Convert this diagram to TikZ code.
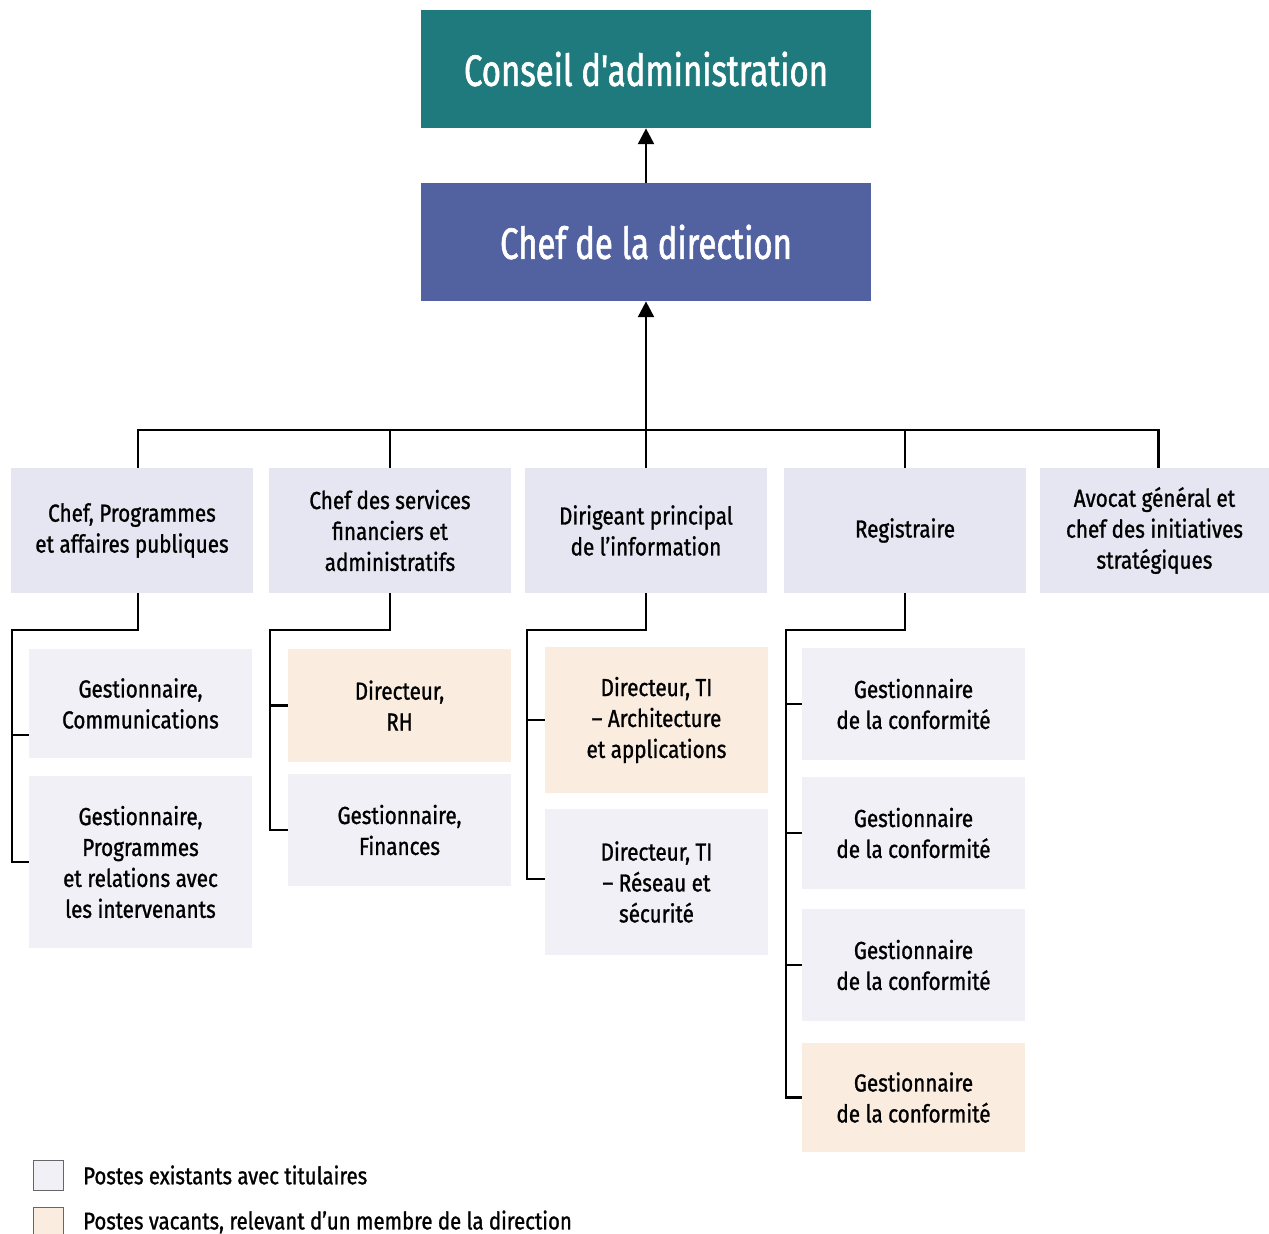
\documentclass[tikz,border=0pt]{standalone}
\usepackage{fontspec}
\setmainfont{Fira Sans}[FakeStretch=0.84, FakeBold=1.1]
\newfontfamily\titlefont{Fira Sans}[FakeStretch=0.75, FakeBold=1.4]
\usepackage{xcolor}
\usetikzlibrary{arrows.meta, positioning, calc}
\definecolor{boardteal}{RGB}{31,122,125}
\definecolor{ceoblue}{RGB}{82,98,160}
\definecolor{execgray}{RGB}{230,230,242}
\definecolor{staffgray}{RGB}{240,240,246}
\definecolor{vacbeige}{RGB}{250,237,224}

\begin{document}
\begin{tikzpicture}[
  x=0.02cm, y=-0.02cm,
  topbox/.style={rectangle, fill=#1, text=white, minimum width=9cm,
    minimum height=2.36cm, align=center, font=\titlefont\fontsize{25}{30}\selectfont},
  execbox/.style={rectangle, fill=execgray, minimum width=4.84cm,
    minimum height=2.5cm, align=center, font=\fontsize{14}{17.6}\selectfont},
  staffbox/.style={rectangle, fill=#1, minimum width=4.46cm,
    align=center, font=\fontsize{14}{17.6}\selectfont},
  legbox/.style={rectangle, draw=black!60, fill=#1, line width=0.5pt,
    minimum width=0.6cm, minimum height=0.6cm},
  legtext/.style={anchor=west, font=\fontsize{13.8}{16}\selectfont},
  line/.style={line width=1.6pt, black},
  arr/.style={-{Triangle[length=9pt, width=9pt]}, line width=1.6pt, black},
]
  \useasboundingbox (0,0) rectangle (1269,1234);

  % Board and CEO
  \node[topbox=boardteal] (board) at (646,69) {Conseil d'administration};
  \node[topbox=ceoblue] (ceo) at (646,242) {Chef de la direction};
  \draw[arr] (ceo.north) -- (board.south);

  % Executives
  \node[execbox] (prog) at (132,530.5) {Chef, Programmes\\et affaires publiques};
  \node[execbox] (fin) at (390,530.5) {Chef des services\\financiers et\\administratifs};
  \node[execbox] (info) at (646,530.5) {Dirigeant principal\\de l'information};
  \node[execbox] (reg) at (905,530.5) {Registraire};
  \node[execbox, minimum width=4.58cm] (legal) at (1154.5,530.5) {Avocat général et\\chef des initiatives\\stratégiques};

  \coordinate (bus) at (646,430);
  \draw[arr] (bus) -- (ceo.south);
  \draw[line] ([xshift=0.12cm]prog.north) |- ([xshift=0.08cm]legal.north |- bus) -- ([xshift=0.08cm]legal.north);
  \draw[line] (fin.north) -- (fin.north |- bus);
  \draw[line] (info.north) -- (bus);
  \draw[line] (reg.north) -- (reg.north |- bus);

  % Staff under Programmes
  \node[staffbox=staffgray, minimum height=2.18cm] (gcom) at (140.5,703.5) {Gestionnaire,\\Communications};
  \node[staffbox=staffgray, minimum height=3.44cm] (gprog) at (140.5,862) {Gestionnaire,\\Programmes\\et relations avec\\les intervenants};
  \coordinate (sp1) at (12,630);
  \draw[line] ([xshift=0.12cm]prog.south) |- (sp1) |- (gprog.west);
  \draw[line] (sp1 |- 0,735) -- (gcom.west |- 0,735);

  % Staff under Finances
  \node[staffbox=vacbeige, minimum height=2.26cm] (dirrh) at (399.5,705.5) {Directeur,\\RH};
  \node[staffbox=staffgray, minimum height=2.24cm] (gfin) at (399.5,830) {Gestionnaire,\\Finances};
  \coordinate (sp2) at (270,630);
  \draw[line] (fin.south) |- (sp2) |- (gfin.west);
  \draw[line] (sp2 |- dirrh.west) -- (dirrh.west);

  % Staff under Information
  \node[staffbox=vacbeige, minimum height=2.92cm] (itarch) at (656.5,720) {Directeur, TI\\– Architecture\\et applications};
  \node[staffbox=staffgray, minimum height=2.92cm] (itnet) at (656.5,882) {Directeur, TI\\– Réseau et\\sécurité};
  \coordinate (sp3) at (527,630);
  \draw[line] (info.south) |- (sp3) |- ([yshift=0.06cm]itnet.west);
  \draw[line] (sp3 |- itarch.west) -- (itarch.west);

  % Staff under Registraire
  \node[staffbox=staffgray, minimum height=2.24cm] (conf1) at (913.5,704) {Gestionnaire\\de la conformité};
  \node[staffbox=staffgray, minimum height=2.24cm] (conf2) at (913.5,833) {Gestionnaire\\de la conformité};
  \node[staffbox=staffgray, minimum height=2.24cm] (conf3) at (913.5,965) {Gestionnaire\\de la conformité};
  \node[staffbox=vacbeige, minimum height=2.18cm] (conf4) at (913.5,1097.5) {Gestionnaire\\de la conformité};
  \coordinate (sp4) at (786,630);
  \draw[line] (reg.south) |- (sp4) |- (conf4.west);
  \foreach \n in {conf1,conf2,conf3}
    \draw[line] (sp4 |- \n.west) -- (\n.west);

  % Legend
  \node[legbox=staffgray] (legA) at (48.5,1175) {};
  \node[legbox=vacbeige] (legB) at (48.5,1222) {};
  \node[legtext] (legAt) at (77,1175) {Postes existants avec titulaires};
  \node[legtext] (legBt) at (77,1222) {Postes vacants, relevant d’un membre de la direction};
\end{tikzpicture}
\end{document}
